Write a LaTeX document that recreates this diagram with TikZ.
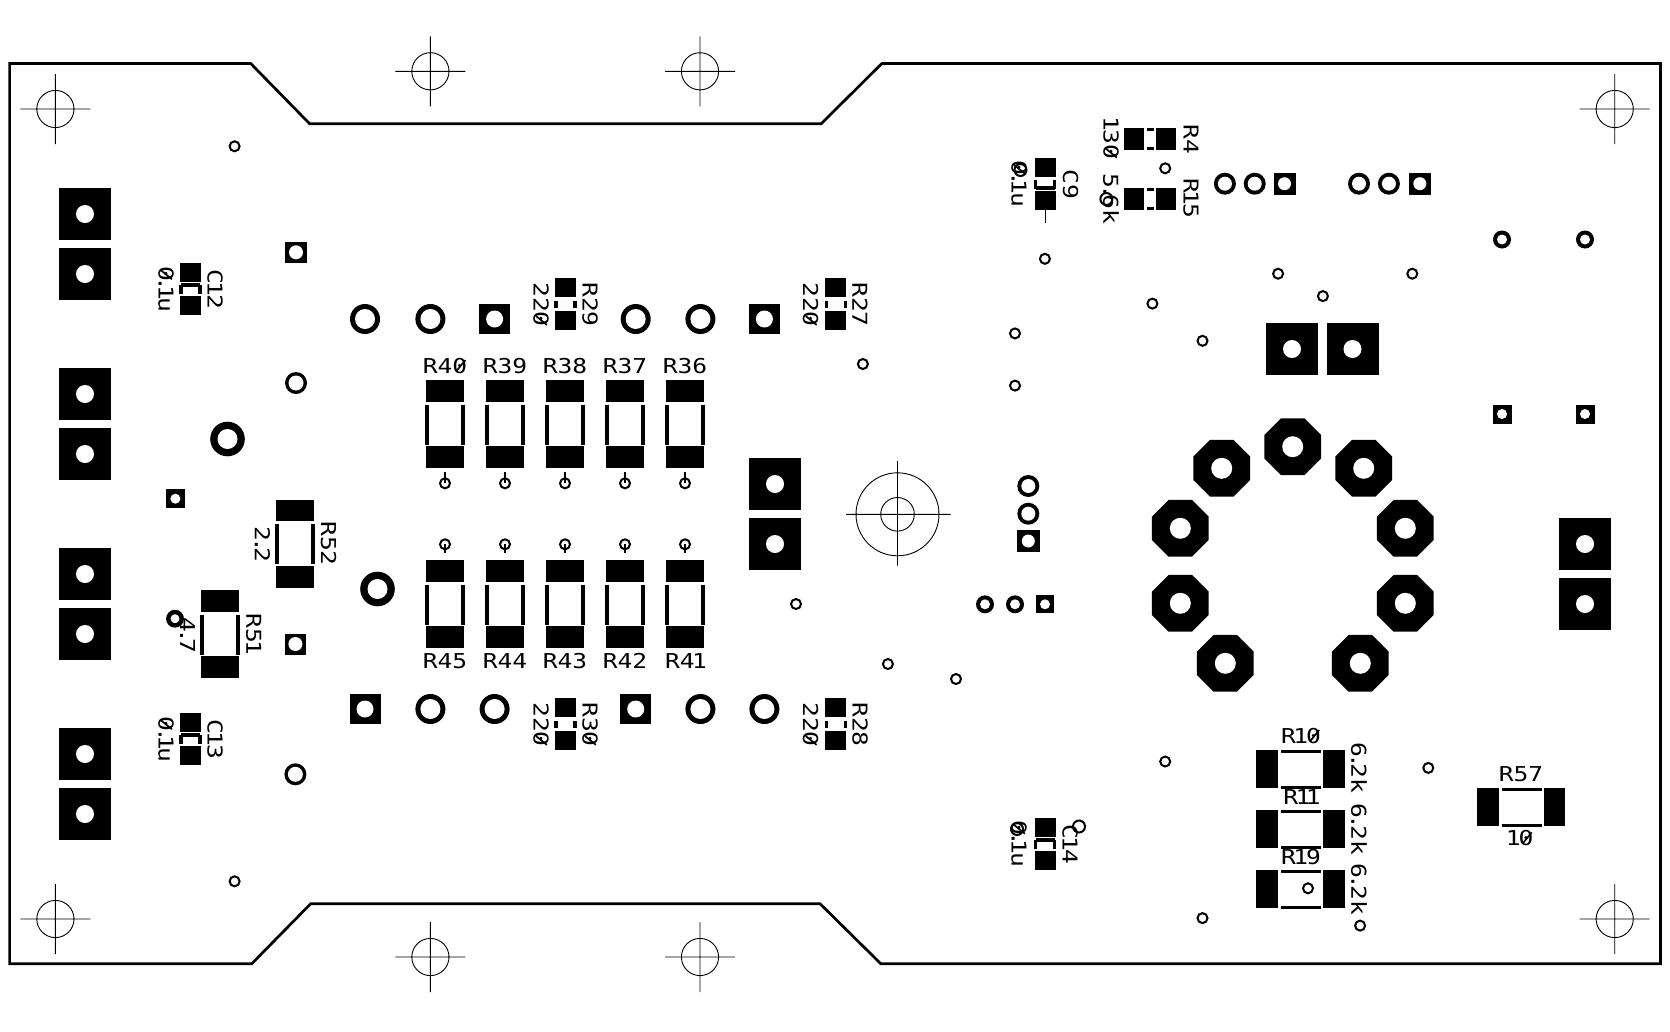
\documentclass[tikz,border=0pt]{standalone}
\usepackage{fontspec}
\newfontfamily\pcb{DejaVu Sans Mono}
\newcounter{tc}
\newcommand\zr{\rlap{\kern2.8pt\raisebox{2pt}{\rotatebox{56}{\rule{13.2pt}{1.5pt}}}}0}
\newcommand\dt{\kern-3.4pt.\kern-3.4pt}
\newcommand\one{\kern-2.2pt 1\kern-1.6pt}
\newcommand\lbl[4]{\stepcounter{tc}\node[pcbtext,rotate=#3] (t\arabic{tc}) at (#1,#2) {\scalebox{1.2}[1]{#4}};}
\newcommand\sqhole[5]{\fill (#1-#3/2,#2-#4/2) rectangle (#1+#3/2,#2+#4/2); \fill[white] (#1,#2) circle[radius=#5pt];}
\newcommand\bigpad[2]{\sqhole{#1}{#2}{52}{52}{9}}
\newcommand\ringh[4]{\fill (#1,#2) circle[radius=#3pt]; \fill[white] (#1,#2) circle[radius=#4pt];}
\newcommand\via[1]{\draw[viaring] (#1) circle[radius=5pt];}
\newcommand\octo[2]{\fill[shift={(#1,#2)}] (22.5:30.7) -- (67.5:30.7) -- (112.5:30.7) -- (157.5:30.7) -- (202.5:30.7) -- (247.5:30.7) -- (292.5:30.7) -- (337.5:30.7) -- cycle; \fill[white] (#1,#2) circle[radius=10.5pt];}
\newcommand\cross[2]{\draw[thinline] (#1,#2) circle[radius=18.6pt] (#1-35,#2) -- (#1+35,#2) (#1,#2-35) -- (#1,#2+35);}
\newcommand\vsmd[2]{\fill (#1-19,#2) rectangle (#1+19,#2+21.5); \fill (#1-19,#2+66) rectangle (#1+19,#2+88);
 \draw[silk] (#1-18,#2+24.5) -- (#1-18,#2+64.5) (#1+18,#2+24.5) -- (#1+18,#2+64.5);}
\newcommand\hsmd[2]{\fill (#1,#2) rectangle (#1+22,#2+38); \fill (#1+67,#2) rectangle (#1+88.5,#2+38);
 \draw[silk] (#1+25,#2+1.3) -- (#1+65,#2+1.3) (#1+25,#2+37.3) -- (#1+65,#2+37.3);}
\newcommand\vsm[2]{\fill (#1-10.5,#2) rectangle (#1+10.5,#2+18.7); \fill (#1-10.5,#2+33) rectangle (#1+10.5,#2+52);
 \draw[silk] (#1-9.5,#2+22.5) -- (#1-9.5,#2+29.8) (#1+9.5,#2+22.5) -- (#1+9.5,#2+29.8);}
\newcommand\hsm[2]{\fill (#1,#2) rectangle (#1+20,#2+22); \fill (#1+32.5,#2) rectangle (#1+52.5,#2+22);
 \draw[silk] (#1+23.5,#2+1.3) -- (#1+30,#2+1.3) (#1+23.5,#2+20.5) -- (#1+30,#2+20.5);}
\newcommand\capa[3]{\fill (#1-10.5,#2) rectangle (#1+10.5,#2+18.7); \fill (#1-10.5,#2+33) rectangle (#1+10.5,#2+52);
 \draw[silk] (#1-9.5,#2+21.5) -- (#1-9.5,#2+30.5) (#1+9.5,#2+21.5) -- (#1+9.5,#2+30.5) (#1-9.5,#2+#3) -- (#1+9.5,#2+#3);}
\newcommand\stubvia[3]{\draw[viaring] (#1,#2) circle[radius=5pt]; \draw[viaring] (#1,#2) -- (#1,#3);}
\begin{document}
\begin{tikzpicture}[x=1pt,y=-1pt,
  pcbtext/.style={inner sep=0pt,outer sep=0pt,font=\pcb\fontsize{20.5}{20.5}\selectfont},
  thinline/.style={line width=0.9pt},
  outline/.style={line width=2.7pt,line join=miter},
  silk/.style={line width=3.1pt},
  viaring/.style={line width=2pt}]
\useasboundingbox[fill=white] (0,0) rectangle (1670,1031);
% board outline
\draw[outline] (9.6,63.5) -- (250.7,63.5) -- (309.6,123.7) -- (821.2,123.7) -- (881.9,63.5) -- (1660.5,63.5) -- (1660.5,963.7) -- (880.8,963.7) -- (820,903.7) -- (310.7,903.7) -- (251.8,963.7) -- (9.6,963.7) -- cycle;
% crosshairs
\cross{55.4}{109} \cross{430.4}{71.3} \cross{700}{71.3} \cross{1614.7}{109}
\cross{55.4}{919} \cross{430.4}{957} \cross{700}{957} \cross{1614.7}{919}
% centre target
\draw[thinline] (897.5,514.3) circle[radius=41.5pt] (897.5,514.3) circle[radius=16.8pt] (846,514.3) -- (950.7,514.3) (897.5,461) -- (897.5,565.7);
% big pads
\bigpad{85}{214} \bigpad{85}{274} \bigpad{85}{394} \bigpad{85}{454}
\bigpad{85}{574} \bigpad{85}{634} \bigpad{85}{754} \bigpad{85}{814}
\bigpad{775}{484} \bigpad{775}{544} \bigpad{1292}{349} \bigpad{1352.5}{349}
\bigpad{1585}{544} \bigpad{1585}{604}
% medium row pads
\ringh{365}{319}{15}{10} \ringh{430.4}{319}{15}{10} \sqhole{494.6}{319}{31}{30}{8.5}
\ringh{635.7}{319}{15}{10} \ringh{700.4}{319}{15}{10} \sqhole{764.4}{319}{31}{30}{8.5}
\sqhole{365}{709}{31}{30}{8.5} \ringh{430.4}{709}{15}{10} \ringh{494.6}{709}{15}{10}
\sqhole{635.7}{709}{31}{30}{8.5} \ringh{700.4}{709}{15}{10} \ringh{764.4}{709}{15}{10}
% left side pads
\sqhole{296}{252.3}{22}{21}{7} \ringh{296}{383}{11}{7.5}
\sqhole{295.4}{644}{21}{21}{7} \ringh{295.4}{774.3}{11}{7.5}
\ringh{227.5}{439}{17.3}{10} \ringh{377.5}{589}{17.3}{10}
\sqhole{175.4}{498.7}{19}{19}{5}
% pin groups
\ringh{1224.9}{183.7}{11}{7} \ringh{1254.7}{183.7}{11}{7} \sqhole{1284.5}{183.7}{22}{22}{6.5}
\ringh{1359}{183.7}{11}{7} \ringh{1388.9}{183.7}{11}{7} \sqhole{1419.8}{183.7}{22}{22}{6.5}
\ringh{1502}{239.5}{9}{5} \ringh{1585}{239.5}{9}{5}
\sqhole{1502}{414}{19}{19}{5} \sqhole{1585}{414}{19}{19}{5}
\ringh{1028.3}{486}{11}{7} \ringh{1028.3}{513.7}{11}{7} \sqhole{1028.3}{541}{23}{22}{6.5}
\ringh{985}{604.3}{9}{5} \ringh{1015}{604.3}{9}{5} \sqhole{1045}{604.3}{18}{18}{5}
% octagons
\octo{1292.7}{446.7} \octo{1221.7}{468.3} \octo{1363.7}{468.3}
\octo{1180.3}{528.3} \octo{1405.3}{528.3} \octo{1180.3}{603.3} \octo{1405.3}{603.3}
\octo{1225.3}{663.3} \octo{1360.3}{663.3}
% vias
\via{234.6,146.3} \via{234.6,881.3} \via{862.9,364} \via{796,604} \via{887.9,664} \via{956,679}
\via{1044.9,258.8} \via{1015,333.4} \via{1015,385.6} \via{1152.4,303.6} \via{1202.5,340.8}
\via{1278.1,273.7} \via{1322.9,296.1} \via{1412.3,273.7} \via{1165.2,168.3}
\via{1165.2,761.5} \via{1428.3,767.9} \via{1202.5,918.1} \via{1360.1,925.6} \via{1308,888.3}
\draw[line width=4.4pt] (175,618.7) circle[radius=6.7pt];
\draw[viaring] (1020.5,170) circle[radius=6pt] (1106.4,199) circle[radius=6pt] (1079,826.5) circle[radius=6pt] (1017,829) circle[radius=6pt];
% big vertical resistors
\foreach \cx/\a/\b in {445/{R4\zr}/R45,505/R39/R44,565/R38/R43,625/R37/R42,685/R36/{R4\one}}{
  \vsmd{\cx}{380} \vsmd{\cx}{560}
  \stubvia{\cx}{483.3}{472} \stubvia{\cx}{544.3}{553.3}
  \lbl{\cx}{366}{0}{\a} \lbl{\cx}{661}{0}{\b}
}
\vsmd{295}{499.5} \lbl{262.5}{544.5}{-90}{2\dt 2} \lbl{328.6}{543.5}{-90}{R52}
\vsmd{220}{590} \lbl{187.5}{635.5}{-90}{4\dt 7} \lbl{253.6}{633.8}{-90}{R5\one}
% small vertical resistors
\vsm{565.5}{278} \lbl{541}{304.5}{-90}{22\zr} \lbl{590}{304.5}{-90}{R29}
\vsm{835.6}{278} \lbl{810.7}{304.5}{-90}{22\zr} \lbl{860}{304.5}{-90}{R27}
\vsm{565.5}{698} \lbl{541}{724.5}{-90}{22\zr} \lbl{590}{724.5}{-90}{R3\zr}
\vsm{835.6}{698} \lbl{810.7}{724.5}{-90}{22\zr} \lbl{860}{724.5}{-90}{R28}
% capacitors
\capa{190.5}{263}{22} \lbl{215}{289}{-90}{C\one 2} \lbl{166}{289.5}{-90}{\zr\dt\one u}
\capa{190.5}{713}{22} \lbl{215}{739}{-90}{C\one 3} \lbl{166}{739.5}{-90}{\zr\dt\one u}
\capa{1045}{158}{30} \lbl{1070.5}{184}{-90}{C9} \lbl{1019}{184}{-90}{\zr\dt\one u}
\draw[thinline] (1045,210) -- (1045,223.3);
\capa{1045}{818}{22} \lbl{1070}{844}{-90}{C\one 4} \lbl{1019}{844}{-90}{\zr\dt\one u}
% R4 R15
\hsm{1123.5}{128} \lbl{1111}{139.5}{-90}{\one 3\zr} \lbl{1191}{139}{-90}{R4}
\hsm{1123.5}{188} \lbl{1111}{199}{-90}{5\dt 6k} \lbl{1191}{198}{-90}{R\one 5}
% R10 R11 R19 R57
\hsmd{1256}{750} \lbl{1301}{736}{0}{R\one\zr} \lbl{1359}{768}{-90}{6\dt 2k}
\hsmd{1256}{810} \lbl{1301}{796.7}{0}{R\one\one} \lbl{1359}{829.5}{-90}{6\dt 2k}
\hsmd{1256}{870} \lbl{1301}{856.7}{0}{R\one 9} \lbl{1359}{889.5}{-90}{6\dt 2k}
\hsmd{1476.5}{788} \lbl{1521}{774}{0}{R57} \lbl{1521}{838.3}{0}{\one\zr}
\end{tikzpicture}
\end{document}
